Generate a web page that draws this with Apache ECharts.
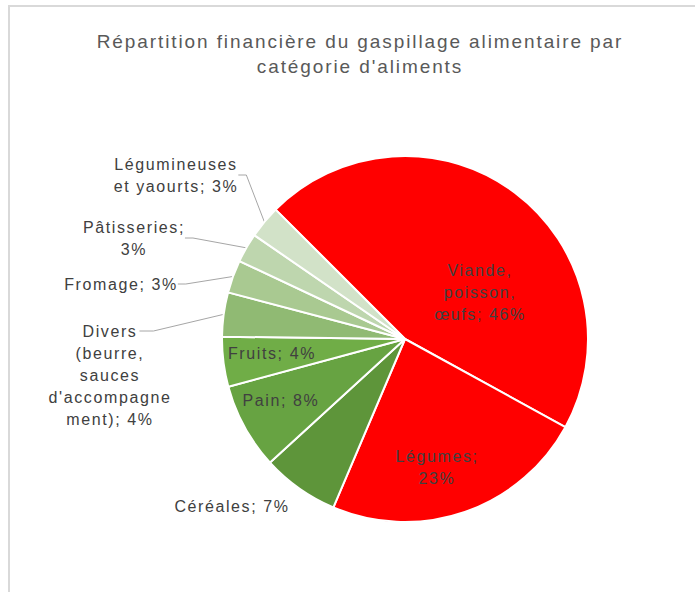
<!DOCTYPE html>
<html>
<head>
<meta charset="utf-8">
<script src="https://cdn.jsdelivr.net/npm/echarts@6/dist/echarts.min.js"></script>
<style>
    html, body { margin: 0; padding: 0; background: #fff; overflow: hidden; }
    #frame {
        position: absolute; left: 8px; top: 5px; width: 720px; height: 620px;
        border-left: 2px solid #d9d9d9; border-top: 2px solid #d9d9d9;
    }
    #main { width: 700px; height: 600px; }
    /* texte plus espacé, comme dans Excel */
    #main text { letter-spacing: 0.1em; }
</style>
</head>
<body>
<div id="frame"><div id="main"></div></div>
<script>
// données
var categories = ['Viande, poisson, œufs', 'Légumes', 'Céréales', 'Pain', 'Fruits',
    "Divers (beurre, sauces d'accompagnement)", 'Fromage', 'Pâtisseries', 'Légumineuses et yaourts'];
var values = [45.5, 23.4, 6.8, 7.6, 4.4, 3.9, 2.9, 2.6, 2.9];
// texte des étiquettes, avec les retours à la ligne
var labelNames = ['Viande,\npoisson,\nœufs; ', 'Légumes;\n', 'Céréales; ', 'Pain; ', 'Fruits; ',
    "Divers\n(beurre,\nsauces\nd'accompagne\nment); ", 'Fromage; ', 'Pâtisseries;\n', 'Légumineuses\net yaourts; '];

var colors = ['#ff0000', '#ff0000', '#5e953a', '#67a342', '#70ad47', '#90ba73', '#a9c991', '#bed6ae', '#d2e2c8'];
var inside = [true, true, false, true, true, false, false, false, false];
var showLine = [false, false, false, false, false, true, true, true, true];
// centre de chaque étiquette (px)
var labelPos = [[470, 285], [427, 460], [222, 499], [271, 393], [262, 346],
    [100, 368], [111, 277], [124, 231], [166, 168]];

var LABEL_SIZE = 16, LABEL_LH = 22;

// mesure du texte avec l'espacement des lettres
var measureCtx = document.createElement('canvas').getContext('2d');
var textWidth = function (text, font) {
    measureCtx.font = font || '12px sans-serif';
    var m = /(\d+(\.\d+)?)px/.exec(measureCtx.font);
    var size = m ? parseFloat(m[1]) : 12;
    return measureCtx.measureText(text).width + text.length * size * 0.1;
};
echarts.setPlatformAPI({
    measureText: function (text, font) {
        return { width: textWidth(text, font) };
    }
});

var myChart = echarts.init(document.getElementById('main'), null, { renderer: 'svg' });

var pieData = [];
categories.forEach(function (name, i) {
    pieData.push({
        name: name,
        value: values[i],
        itemStyle: { color: colors[i] },
        label: { position: inside[i] ? 'inside' : 'outside' },
        labelLine: { show: showLine[i] }
    });
});

var options = {
    animation: false,
    title: {
        text: 'Répartition financière du gaspillage alimentaire par\ncatégorie d\'aliments',
        left: 'center',
        top: 17,
        textStyle: {
            fontFamily: 'Liberation Sans',
            fontSize: 19,
            fontWeight: 'normal',
            color: '#595959',
            lineHeight: 25
        }
    },
    series: [
        {
            name: 'Gaspillage',
            type: 'pie',
            center: [395, 332],
            radius: 183,
            startAngle: 135,
            clockwise: true,
            avoidLabelOverlap: false,
            data: pieData,
            itemStyle: {
                borderColor: '#ffffff',
                borderWidth: 2
            },
            label: {
                fontFamily: 'Liberation Sans',
                fontSize: LABEL_SIZE,
                lineHeight: LABEL_LH,
                color: '#404040',
                align: 'center',
                formatter: function (p) {
                    return labelNames[p.dataIndex] + Math.round(p.value) + '%';
                }
            },
            labelLine: {
                length: 10,
                length2: 8,
                lineStyle: { color: '#a6a6a6', width: 1 }
            },
            labelLayout: function (params) {
                var i = params.dataIndex;
                var pos = labelPos[i];
                var layout = {
                    x: pos[0],
                    y: pos[1],
                    align: 'center',
                    verticalAlign: 'middle'
                };
                // étiquette Divers : le trait part de la première ligne
                if (i === 5 && params.labelLinePoints) {
                    var lines = labelNames[i].split('\n');
                    var w = textWidth(lines[0], LABEL_SIZE + 'px "Liberation Sans"');
                    var y0 = pos[1] - (lines.length - 1) / 2 * LABEL_LH;
                    var x0 = pos[0] + w / 2 + 2;
                    layout.labelLinePoints = [
                        params.labelLinePoints[0],
                        [x0 + 14, y0],
                        [x0, y0]
                    ];
                }
                return layout;
            },
            emphasis: { scale: false }
        }
    ]
};
myChart.setOption(options);
</script>
</body>
</html>
